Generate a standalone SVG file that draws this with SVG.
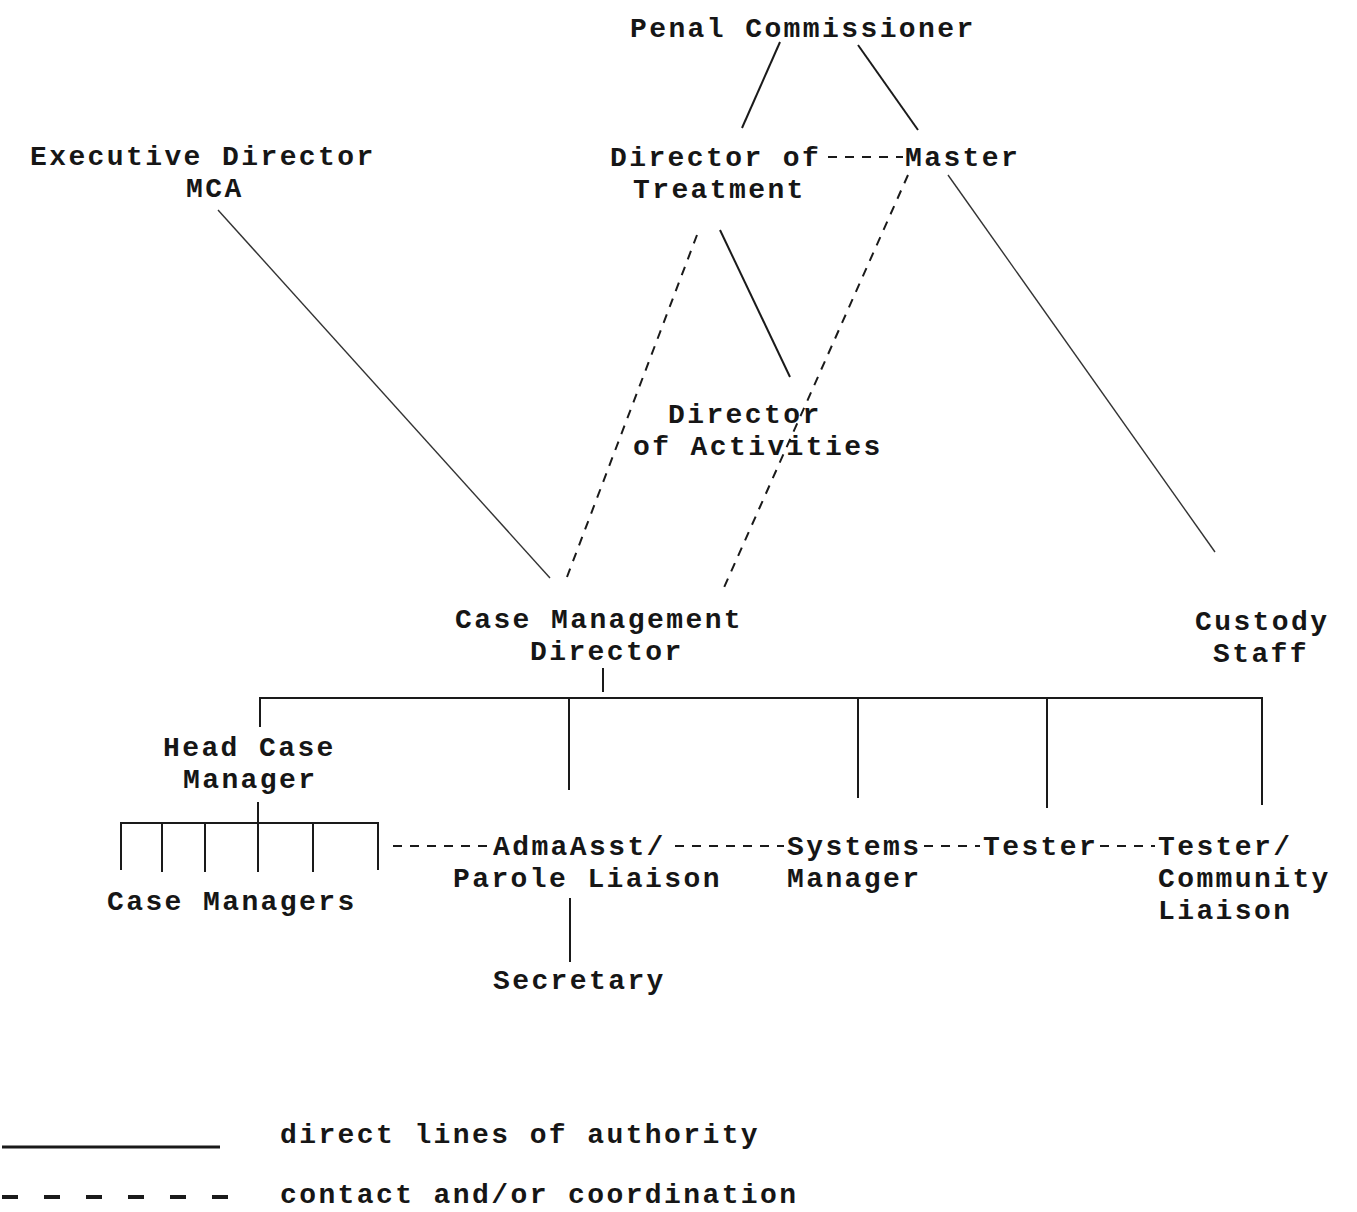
<svg xmlns="http://www.w3.org/2000/svg" width="1357" height="1212" viewBox="0 0 1357 1212">
<style>
text{font-family:"Liberation Mono","DejaVu Sans Mono",monospace;font-size:28px;letter-spacing:2.4px;font-weight:bold;fill:#161616}
.s{stroke:#1a1a1a;stroke-width:2;fill:none}
.t{stroke:#333;stroke-width:1.4;fill:none}
.d{stroke:#1a1a1a;stroke-width:2;fill:none;stroke-dasharray:9 8}
</style>
<rect width="1357" height="1212" fill="#fff"/>
<g id="connectors">
<line class="s" x1="780" y1="42" x2="742" y2="128"/>
<line class="s" x1="858" y1="45" x2="918" y2="130"/>
<line class="d" x1="828" y1="157" x2="903" y2="157"/>
<line class="t" x1="948" y1="175" x2="1215" y2="552"/>
<line class="d" x1="908" y1="175" x2="722" y2="592"/>
<line class="s" x1="720" y1="230" x2="790" y2="377"/>
<line class="d" x1="697" y1="235" x2="567" y2="577"/>
<line class="t" x1="218" y1="210" x2="550" y2="578"/>
<line class="s" x1="603" y1="668" x2="603" y2="692"/>
<polyline class="s" points="260,727 260,698 1262,698 1262,805"/>
<line class="s" x1="569" y1="698" x2="569" y2="790"/>
<line class="s" x1="858" y1="698" x2="858" y2="798"/>
<line class="s" x1="1047" y1="698" x2="1047" y2="808"/>
<line class="s" x1="258" y1="802" x2="258" y2="872"/>
<polyline class="s" points="121,870 121,823 378,823 378,870"/>
<line class="s" x1="162" y1="823" x2="162" y2="872"/>
<line class="s" x1="205" y1="823" x2="205" y2="872"/>
<line class="s" x1="313" y1="823" x2="313" y2="872"/>
<line class="d" x1="393" y1="846" x2="490" y2="846"/>
<line class="d" x1="675" y1="846" x2="784" y2="846"/>
<line class="d" x1="924" y1="846" x2="980" y2="846"/>
<line class="d" x1="1100" y1="846" x2="1155" y2="846"/>
<line class="s" x1="570" y1="898" x2="570" y2="962"/>
</g>
<g id="penal-commissioner"><text x="630" y="37">Penal Commissioner</text></g>
<g id="executive-director"><text x="30" y="165">Executive Director<tspan x="186" dy="32">MCA</tspan></text></g>
<g id="director-of-treatment"><text x="610" y="166">Director of<tspan x="633" dy="32">Treatment</tspan></text></g>
<g id="master"><text x="905" y="166">Master</text></g>
<g id="director-of-activities"><text x="668" y="423">Director<tspan x="633" dy="32">of Activities</tspan></text></g>
<g id="case-management-director"><text x="455" y="628">Case Management<tspan x="530" dy="32">Director</tspan></text></g>
<g id="custody-staff"><text x="1195" y="630">Custody<tspan x="1213" dy="32">Staff</tspan></text></g>
<g id="head-case-manager"><text x="163" y="756">Head Case<tspan x="183" dy="32">Manager</tspan></text></g>
<g id="case-managers"><text x="107" y="910">Case Managers</text></g>
<g id="adm-asst"><text x="493" y="855">AdmaAsst/<tspan x="453" dy="32">Parole Liaison</tspan></text></g>
<g id="systems-manager"><text x="787" y="855">Systems<tspan x="787" dy="32">Manager</tspan></text></g>
<g id="tester"><text x="983" y="855">Tester</text></g>
<g id="tester-community"><text x="1158" y="855">Tester/<tspan x="1158" dy="32">Community</tspan><tspan x="1158" dy="32">Liaison</tspan></text></g>
<g id="secretary"><text x="493" y="989">Secretary</text></g>
<g id="legend">
<line x1="2" y1="1147" x2="220" y2="1147" stroke="#1a1a1a" stroke-width="3"/>
<line x1="2" y1="1197" x2="245" y2="1197" stroke="#1a1a1a" stroke-width="4" stroke-dasharray="16 26"/>
<text x="280" y="1143">direct lines of authority</text>
<text x="280" y="1203">contact and/or coordination</text>
</g>
</svg>
